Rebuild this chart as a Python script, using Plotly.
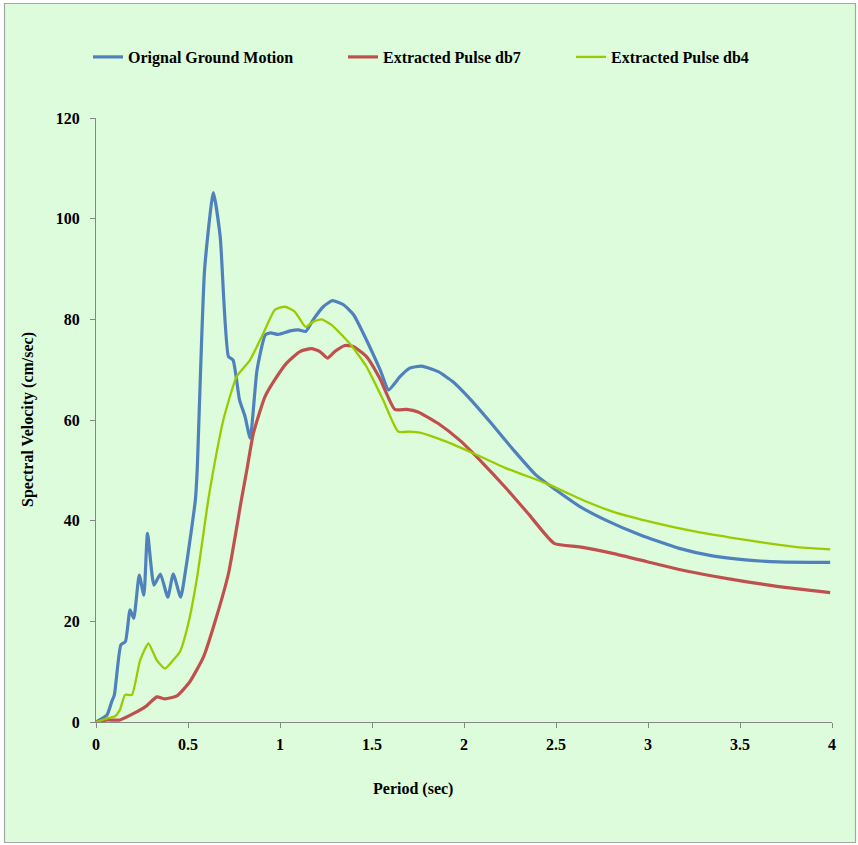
import plotly.graph_objects as go

# Spectral velocity curves: period (sec) vs spectral velocity (cm/sec)
period_orig = [0.0, 0.02, 0.06, 0.085, 0.10, 0.135, 0.16, 0.185, 0.205, 0.235, 0.26, 0.28,
               0.315, 0.35, 0.39, 0.42, 0.46, 0.49, 0.54, 0.55, 0.59, 0.638, 0.675, 0.72,
               0.745, 0.78, 0.81, 0.838, 0.875, 0.92, 0.95, 0.99, 1.055, 1.10, 1.14, 1.18,
               1.235, 1.285, 1.345, 1.40, 1.47, 1.545, 1.59, 1.652, 1.705, 1.77, 1.86, 1.94,
               2.03, 2.14, 2.27, 2.39, 2.50, 2.63, 2.77, 2.955, 3.17, 3.35, 3.53, 3.71, 3.99]
vel_orig = [0.0, 0.4, 1.4, 4.0, 5.4, 15.3, 16.0, 22.3, 20.6, 29.2, 25.2, 37.5,
            27.2, 29.4, 24.8, 29.4, 24.8, 30.9, 44.1, 50.1, 89.8, 105.2, 96.4, 72.6,
            71.9, 64.0, 60.7, 56.4, 69.9, 76.9, 77.3, 77.0, 77.7, 77.9, 77.6, 79.9,
            82.5, 83.7, 82.9, 80.9, 75.9, 69.9, 66.0, 68.6, 70.3, 70.7, 69.6, 67.6,
            64.3, 59.7, 54.0, 49.1, 46.1, 42.8, 40.1, 37.2, 34.5, 33.0, 32.2, 31.8, 31.7]

period_db7 = [0.0, 0.06, 0.13, 0.205, 0.275, 0.33, 0.375, 0.44, 0.51, 0.585, 0.655, 0.72,
              0.79, 0.82, 0.855, 0.918, 0.972, 1.036, 1.108, 1.17, 1.217, 1.258, 1.298,
              1.352, 1.398, 1.47, 1.542, 1.624, 1.687, 1.75, 1.86, 1.976, 2.103, 2.23,
              2.356, 2.49, 2.628, 2.808, 2.99, 3.17, 3.35, 3.53, 3.71, 3.99]
vel_db7 = [0.0, 0.4, 0.4, 1.7, 3.2, 5.0, 4.6, 5.2, 8.0, 13.0, 20.9, 29.5,
           44.1, 50.1, 57.3, 64.6, 68.0, 71.3, 73.6, 74.2, 73.6, 72.3, 73.6,
           74.8, 74.6, 72.6, 68.3, 62.1, 62.1, 61.6, 59.3, 56.0, 51.4, 46.4,
           41.1, 35.5, 34.8, 33.5, 31.9, 30.3, 29.0, 27.9, 26.9, 25.7]

period_db4 = [0.0, 0.06, 0.105, 0.13, 0.158, 0.195, 0.24, 0.285, 0.33, 0.375, 0.42, 0.457,
              0.502, 0.547, 0.61, 0.638, 0.692, 0.764, 0.837, 0.909, 0.972, 1.027, 1.081,
              1.139, 1.18, 1.226, 1.28, 1.379, 1.47, 1.56, 1.642, 1.705, 1.76, 1.904,
              2.05, 2.23, 2.447, 2.664, 2.808, 3.044, 3.26, 3.44, 3.62, 3.80, 3.99]
vel_db4 = [0.0, 0.7, 1.2, 2.4, 5.4, 5.4, 12.3, 15.6, 12.3, 10.6, 12.3, 14.0,
           19.6, 28.2, 44.1, 50.1, 60.0, 68.6, 71.9, 77.2, 81.9, 82.5, 81.5,
           78.5, 79.5, 80.0, 78.9, 75.2, 70.6, 64.0, 57.7, 57.7, 57.5, 55.7,
           53.4, 50.4, 47.4, 43.8, 41.8, 39.5, 37.8, 36.7, 35.7, 34.8, 34.3]

x_ticks = [0, 0.5, 1, 1.5, 2, 2.5, 3, 3.5, 4]
x_tick_labels = ["0", "0.5", "1", "1.5", "2", "2.5", "3", "3.5", "4"]
y_ticks = [0, 20, 40, 60, 80, 100, 120]

BG = "#DDFCDC"
FONT = "Liberation Serif"
W, H = 858, 845
L, R, T, B = 96, 26, 118, 123

fig = go.Figure()
fig.add_trace(go.Scatter(x=period_orig, y=vel_orig, mode="lines",
                         name="Orignal Ground Motion", legend="legend",
                         line=dict(color="#4F81BD", width=3.2, shape="spline", smoothing=0.5)))
fig.add_trace(go.Scatter(x=period_db7, y=vel_db7, mode="lines",
                         name="Extracted Pulse db7", legend="legend2",
                         line=dict(color="#C0504D", width=3.2, shape="spline", smoothing=0.5)))
fig.add_trace(go.Scatter(x=period_db4, y=vel_db4, mode="lines",
                         name="Extracted Pulse db4", legend="legend3",
                         line=dict(color="#99CC00", width=2.3, shape="spline", smoothing=0.5)))

pw = W - L - R
ph = H - T - B


def px_x(p):
    return (p - L) / pw


def px_y(p):
    return (H - B - p) / ph


legend_common = dict(orientation="h", yanchor="middle", xanchor="left",
                     bgcolor="rgba(0,0,0,0)", itemwidth=30,
                     font=dict(family=FONT, size=16, color="#000000", weight="bold"))

tick_font = dict(family=FONT, size=16, color="#000000", weight="bold")

fig.update_layout(
    width=W, height=H,
    margin=dict(l=L, r=R, t=T, b=B),
    paper_bgcolor="white",
    plot_bgcolor=BG,
    showlegend=True,
    legend=dict(x=px_x(88), y=px_y(57), **legend_common),
    legend2=dict(x=px_x(343), y=px_y(57), **legend_common),
    legend3=dict(x=px_x(571), y=px_y(57), **legend_common),
    xaxis=dict(range=[0, 4], tickvals=x_ticks, ticktext=x_tick_labels,
               showgrid=False, zeroline=False, showline=True, linecolor="#868686",
               linewidth=1, ticks="outside", ticklen=5, tickcolor="#868686",
               ticklabelstandoff=3, tickfont=tick_font),
    yaxis=dict(range=[0, 120], tickvals=y_ticks,
               showgrid=False, zeroline=False, showline=True, linecolor="#868686",
               linewidth=1, ticks="outside", ticklen=5, tickcolor="#868686",
               ticklabelstandoff=7, tickfont=tick_font),
    shapes=[dict(type="rect", xref="paper", yref="paper", layer="below",
                 x0=px_x(4.5), x1=px_x(855.5), y0=px_y(842.5), y1=px_y(3.5),
                 line=dict(color="#A6A6A6", width=1.2), fillcolor=BG)],
    annotations=[
        dict(text="Period (sec)", xref="paper", yref="paper",
             x=px_x(413), y=px_y(789), xanchor="center", yanchor="middle",
             showarrow=False, font=dict(family=FONT, size=16, color="#000000", weight="bold")),
        dict(text="Spectral Velocity (cm/sec)", xref="paper", yref="paper",
             x=px_x(28), y=px_y(420), xanchor="center", yanchor="middle", textangle=-90,
             showarrow=False, font=dict(family=FONT, size=16, color="#000000", weight="bold")),
    ],
)

fig.write_html("out.html")
